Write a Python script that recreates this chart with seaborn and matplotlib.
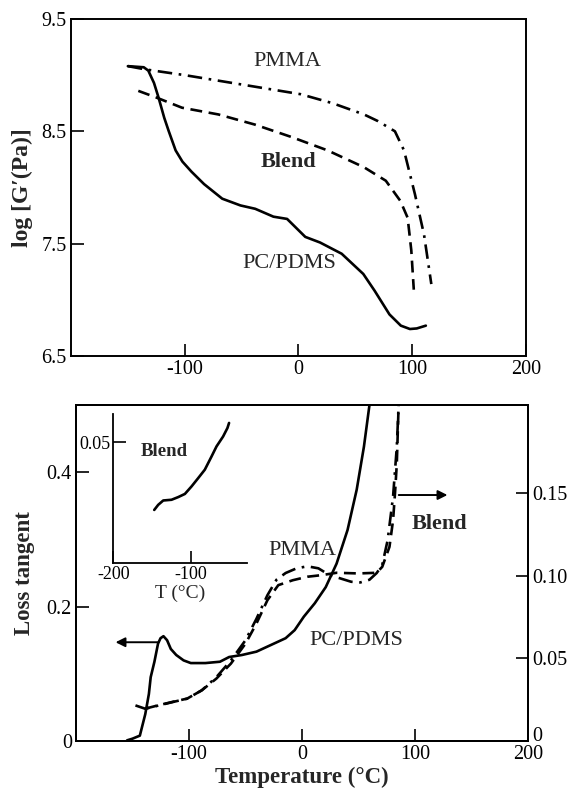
import matplotlib
matplotlib.use("Agg")
import matplotlib.pyplot as plt
import matplotlib.transforms as mtransforms
import seaborn as sns
import pandas as pd

# ---------------- data ----------------
# Top panel: log G'(Pa) vs temperature
top_pmma_T = [-150, -134, -100, -70, 2, 30, 57.6, 70, 84.8, 92.8, 102.4, 110.4, 116.8]
top_pmma_G = [9.08, 9.05, 9.00, 8.95, 8.83, 8.75, 8.65, 8.59, 8.50, 8.33, 7.94, 7.58, 7.14]

top_blend_T = [-140.8, -124.8, -102.4, -70.4, -38.4, -6.4, 25.6, 57.6, 76.8, 89.6, 96, 99.2, 101.4]
top_blend_G = [8.86, 8.80, 8.71, 8.65, 8.56, 8.45, 8.33, 8.18, 8.06, 7.88, 7.73, 7.44, 7.09]

top_pcpdms_T = [-150, -136, -132, -127, -123, -118, -114, -108, -102, -94, -83, -67, -51, -38,
                -22, -10, -3, 6, 19, 38, 57, 67, 80, 90, 98, 104, 112]
top_pcpdms_G = [9.08, 9.07, 9.04, 8.93, 8.80, 8.62, 8.50, 8.33, 8.23, 8.14, 8.03, 7.90, 7.84, 7.81,
                7.74, 7.72, 7.65, 7.56, 7.51, 7.41, 7.23, 7.08, 6.87, 6.77, 6.74, 6.745, 6.77]

# Bottom panel: loss tangent (left axis) for PC/PDMS and PMMA
bot_pcpdms_T = [-154.8, -150, -143.5, -138.7, -135.5, -133.9, -130.6, -127.4, -125.2, -122.6,
                -119.4, -116.1, -111.3, -104.8, -98.4, -85.5, -72.6, -64.5, -53.2, -40.3,
                -27.4, -14.5, -6.5, 1.6, 11.3, 21, 30.6, 40.3, 48.4, 54.8, 59.7]
bot_pcpdms_tan = [0.001, 0.0035, 0.008, 0.040, 0.070, 0.095, 0.118, 0.145, 0.153, 0.156,
                  0.150, 0.137, 0.128, 0.120, 0.116, 0.116, 0.118, 0.125, 0.128, 0.133,
                  0.143, 0.153, 0.165, 0.185, 0.205, 0.229, 0.264, 0.314, 0.374, 0.438, 0.5]

bot_pmma_T = [-147.4, -138.7, -114.5, -101.6, -88.7, -75.8, -62.9, -50, -40.3, -30.6, -22.6,
              -14.5, -4.8, 4.8, 14.5, 24.2, 33.9, 43.5, 51.6, 59.7, 66.1, 71, 75.8, 80.6, 83.9, 85.5]
bot_pmma_tan = [0.053, 0.048, 0.058, 0.063, 0.0755, 0.095, 0.120, 0.150, 0.182, 0.217, 0.240,
                0.250, 0.257, 0.260, 0.257, 0.247, 0.242, 0.237, 0.236, 0.240, 0.250, 0.262,
                0.299, 0.364, 0.438, 0.5]

# Bottom panel: Blend loss tangent (right axis)
bot_blend_T = [-138.7, -127.4, -114.5, -101.6, -88.7, -75.8, -62.9, -50, -40.3, -30.6, -21,
               -8.1, 4.8, 17.7, 30.6, 50, 66.1, 71, 77.4, 80.6, 82.3, 83.9, 84.8, 85.5]
bot_blend_tan = [0.0196, 0.0216, 0.0237, 0.0257, 0.0307, 0.0378, 0.0469, 0.059, 0.0712, 0.0853,
                 0.0944, 0.0974, 0.0995, 0.1005, 0.1019, 0.1015, 0.1019, 0.1055, 0.1176, 0.1338,
                 0.150, 0.168, 0.188, 0.2035]

# Inset: Blend loss tangent at low temperature
inset_T = [-147.2, -142.1, -135.6, -124.9, -116.3, -107.7, -99.1, -90.6, -82, -73.4, -66.9,
           -58.4, -52.8, -50.7]
inset_tan = [0.0220, 0.0241, 0.0259, 0.0262, 0.0273, 0.0286, 0.0317, 0.0351, 0.0386, 0.0440,
             0.0482, 0.0523, 0.0558, 0.0579]

top_xticks = [-100, 0, 100, 200]
top_yticks = [6.5, 7.5, 8.5, 9.5]
bot_left_ticks = [0, 0.2, 0.4]
bot_left_labels = ["0", "0.2", "0.4"]
bot_right_ticks = [0, 0.05, 0.10, 0.15]
bot_right_labels = ["0", "0.05", "0.10", "0.15"]
inset_xticks = [-200, -100]
inset_yticks = [0.05]

# ---------------- style ----------------
sns.set_theme(style="ticks")
plt.rcParams['font.family'] = ['Liberation Serif', 'DejaVu Serif']
plt.rcParams['axes.linewidth'] = 1.4
plt.rcParams['xtick.direction'] = 'in'
plt.rcParams['ytick.direction'] = 'in'

fig = plt.figure(figsize=(5.71, 7.9), dpi=100)

SOLID = '-'
DASHED = (0, (4.5, 2.5))
DASHDOT = (0, (5.5, 2.5, 1, 2.5))
LW = 1.9
TICKFS = 14.5
TXTFS = 16


def line(ax, x, y, ls, lw=LW):
    df = pd.DataFrame({"x": x, "y": y})
    sns.lineplot(data=df, x="x", y="y", ax=ax, color="black", linewidth=lw,
                 linestyle=ls, sort=False, estimator=None)


def style_ticks(ax, **kw):
    ax.tick_params(axis='both', direction='in', length=9, width=1.2, labelsize=TICKFS,
                   colors='black', pad=3, **kw)


# ---------------- top panel ----------------
ax1 = fig.add_axes([0.1243, 0.5494, 0.7968, 0.4266])
line(ax1, top_pmma_T, top_pmma_G, DASHDOT)
line(ax1, top_blend_T, top_blend_G, DASHED)
line(ax1, top_pcpdms_T, top_pcpdms_G, SOLID)
ax1.set_xlim(-200, 200)
ax1.set_ylim(6.5, 9.5)
ax1.set_xticks(top_xticks)
ax1.set_xticklabels([str(v) for v in top_xticks])
ax1.set_yticks(top_yticks)
ax1.set_yticklabels([f"{v:.1f}" for v in top_yticks])
style_ticks(ax1)
ax1.set_xlabel("")
ax1.set_ylabel("log [G\u2032(Pa)]", fontsize=17, fontweight='bold', labelpad=6)
for s in ax1.spines.values():
    s.set_color('black'); s.set_linewidth(1.4)
ax1.text(-9.6, 9.12, "PMMA", fontsize=TXTFS, ha='center', va='center')
ax1.text(-8.7, 8.23, "Blend", fontsize=TXTFS, ha='center', va='center', fontweight='bold')
ax1.text(-8.3, 7.32, "PC/PDMS", fontsize=TXTFS, ha='center', va='center')

# ---------------- bottom panel ----------------
ax2 = fig.add_axes([0.1331, 0.0620, 0.7916, 0.4253])
ax3 = ax2.twinx()
line(ax2, bot_pcpdms_T, bot_pcpdms_tan, SOLID)
line(ax2, bot_pmma_T, bot_pmma_tan, DASHDOT)
line(ax3, bot_blend_T, bot_blend_tan, DASHED)
ax2.set_xlim(-200, 200)
ax2.set_ylim(0, 0.5)
ax3.set_ylim(0, 0.2035)
ax2.set_xticks(top_xticks)
ax2.set_xticklabels([str(v) for v in top_xticks])
ax2.set_yticks(bot_left_ticks)
ax2.set_yticklabels(bot_left_labels)
ax3.set_yticks(bot_right_ticks)
ax3.set_yticklabels(bot_right_labels)
style_ticks(ax2)
style_ticks(ax3)
ax2.tick_params(axis='x', pad=3)
# lift the right-hand "0" a little, as in the original, so it clears "200"
lift = mtransforms.ScaledTranslation(0, 7 / 100, fig.dpi_scale_trans)
ax3.get_yticklabels()[0].set_transform(ax3.get_yticklabels()[0].get_transform() + lift)
ax2.set_xlabel("Temperature (\u00b0C)", fontsize=16.5, fontweight='bold')
ax2.xaxis.set_label_coords(0.5, -0.077)
ax2.set_ylabel("Loss tangent", fontsize=16.5, fontweight='bold', labelpad=8)
ax3.set_ylabel("")
ax3.set_xlabel("")
for a in (ax2, ax3):
    for s in a.spines.values():
        s.set_color('black'); s.set_linewidth(1.4)

arrow_kw = dict(arrowstyle='-|>', color='black', lw=1.4, mutation_scale=14,
                shrinkA=0, shrinkB=0)
ax2.annotate("", xy=(-165, 0.147), xytext=(-126.7, 0.147), arrowprops=arrow_kw)
ax3.annotate("", xy=(128.7, 0.149), xytext=(85.6, 0.149), arrowprops=arrow_kw)

ax2.text(0, 0.284, "PMMA", fontsize=TXTFS, ha='center', va='center')
ax2.text(121.9, 0.323, "Blend", fontsize=TXTFS, ha='center', va='center', fontweight='bold')
ax2.text(47.8, 0.150, "PC/PDMS", fontsize=TXTFS, ha='center', va='center')

# ---------------- inset ----------------
ax4 = fig.add_axes([0.1984, 0.2870, 0.2336, 0.1890])
ax4.set_facecolor('none')
line(ax4, inset_T, inset_tan, SOLID, lw=1.9)
ax4.set_xlim(-200, -28)
ax4.set_ylim(0, 0.0616)
ax4.set_xticks(inset_xticks)
ax4.set_xticklabels([str(v) for v in inset_xticks])
ax4.set_yticks(inset_yticks)
ax4.set_yticklabels(["0.05"])
ax4.tick_params(axis='both', direction='in', length=9, width=1.2, labelsize=13,
                colors='black', pad=2)
for side in ('top', 'right'):
    ax4.spines[side].set_visible(False)
for side in ('left', 'bottom'):
    ax4.spines[side].set_color('black'); ax4.spines[side].set_linewidth(1.3)
ax4.set_xlabel("T (\u00b0C)", fontsize=14, labelpad=1)
ax4.set_ylabel("")
ax4.text(-134.6, 0.046, "Blend", fontsize=13.5, ha='center', va='center', fontweight='bold')

fig.savefig("out.png", dpi=100)
